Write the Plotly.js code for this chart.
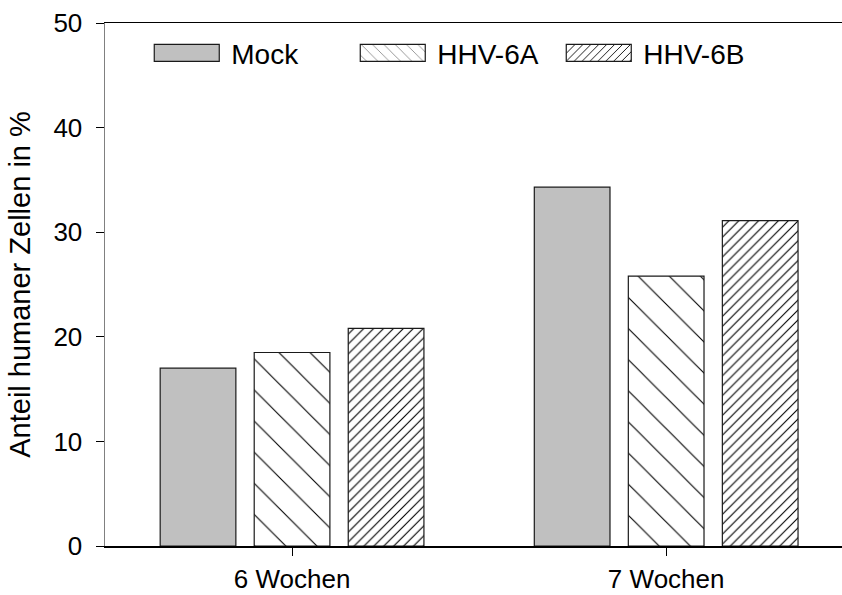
<!DOCTYPE html>
<html>
<head>
<meta charset="utf-8">
<script src="https://cdn.plot.ly/plotly-3.0.1.min.js"></script>
<style>html,body{margin:0;padding:0;background:#fff;}#chart{width:842px;height:595px;}</style>
</head>
<body>
<div id="chart"></div>
<script>
const categories = ['6 Wochen', '7 Wochen'];
const seriesNames = ['Mock', 'HHV-6A', 'HHV-6B'];
const mockValues = [17.0, 34.3];
const hhv6aValues = [18.5, 25.8];
const hhv6bValues = [20.8, 31.1];
const yTickValues = [0, 10, 20, 30, 40, 50];

const FONT = 'Liberation Sans, Arial, sans-serif';
const border = {color: '#1a1a1a', width: 1.2};

const traces = [
  {type: 'bar', name: seriesNames[0], x: categories, y: mockValues,
   marker: {color: '#c0c0c0', line: border}},
  {type: 'bar', name: seriesNames[1], x: categories, y: hhv6aValues,
   marker: {color: '#ffffff', line: border,
            pattern: {shape: '\\', size: 22, solidity: 0.05, fgcolor: '#000000', bgcolor: '#ffffff'}}},
  {type: 'bar', name: seriesNames[2], x: categories, y: hhv6bValues,
   marker: {color: '#ffffff', line: border,
            pattern: {shape: '/', size: 7, solidity: 0.16, fgcolor: '#000000', bgcolor: '#ffffff'}}}
];

const layout = {
  width: 842, height: 595,
  margin: {l: 105, r: 0, t: 23, b: 49},
  paper_bgcolor: '#ffffff', plot_bgcolor: '#ffffff',
  font: {family: FONT, color: '#000000', size: 26},
  barmode: 'group', bargap: 0.246, bargroupgap: 0.195,
  showlegend: true,
  legend: {orientation: 'h', x: 0.0492, y: 0.99, xanchor: 'left', yanchor: 'top',
           font: {family: FONT, size: 28, color: '#000'}, itemwidth: 80,
           entrywidth: 111, entrywidthmode: 'pixels',
           traceorder: 'normal', bgcolor: 'rgba(0,0,0,0)', itemclick: false},
  xaxis: {type: 'category', range: [-0.5, 1.47], showgrid: false, zeroline: false,
          showline: true, linecolor: '#000000', linewidth: 1.5, mirror: true,
          ticks: 'outside', ticklen: 8, tickcolor: '#000000', tickwidth: 1,
          tickfont: {family: FONT, size: 26, color: '#000'}, ticklabelstandoff: 1},
  yaxis: {range: [0, 50], tickvals: yTickValues, showgrid: false, zeroline: false,
          showline: true, linecolor: '#808080', linewidth: 1.5,
          ticks: 'outside', ticklen: 8, tickcolor: '#000000', tickwidth: 1,
          tickfont: {family: FONT, size: 26, color: '#000'}, ticklabelstandoff: 8,
          title: {text: 'Anteil humaner Zellen in %', font: {family: FONT, size: 29, color: '#000'}, standoff: 14}}
};

Plotly.newPlot('chart', traces, layout, {displayModeBar: false, staticPlot: true}).then(function (gd) {
  // widen the legend swatches to match the wide rectangular keys
  gd.querySelectorAll('.legend .traces .legendpoints path').forEach(function (p) {
    p.setAttribute('d', 'M-32,-8.5H33V8.5H-32Z');
  });
});
</script>
</body>
</html>
